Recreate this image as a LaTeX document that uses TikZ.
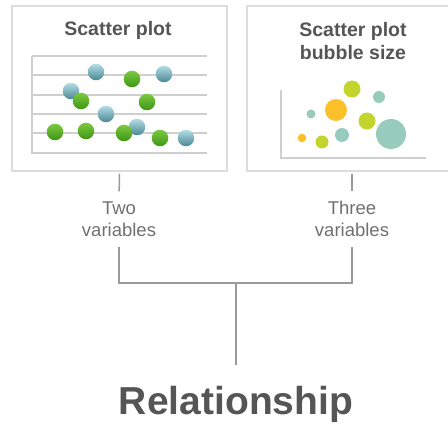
\documentclass[tikz,border=0pt]{standalone}
\usepackage{fontspec}
\setmainfont{Liberation Sans}
\usepackage{tikz}

\definecolor{panelgray}{HTML}{DCDCDC}
\definecolor{gridgray}{HTML}{CFCFCF}
\definecolor{titlegray}{HTML}{555555}
\definecolor{labelgray}{HTML}{707070}
\definecolor{linkgray}{HTML}{9A9A9A}
\definecolor{limegreen}{HTML}{C3D42C}
\definecolor{tealbubble}{HTML}{97CBBB}
\definecolor{orangebubble}{HTML}{FBC02A}
\definecolor{bluetop}{HTML}{B4DDE5}
\definecolor{bluebottom}{HTML}{4A8893}
\definecolor{greentop}{HTML}{7CC942}
\definecolor{greenbottom}{HTML}{3E9614}

\tikzset{
  panel/.style = {draw = panelgray, line width = 1.5pt, minimum height = 165pt, inner sep = 0pt},
  title/.style = {text = titlegray, font = \bfseries\fontsize{19.5}{23}\selectfont, align = center, inner sep = 0pt},
  label/.style = {text = labelgray, font = \fontsize{18.5}{22}\selectfont, align = center, inner sep = 0pt},
  link/.style = {draw = linkgray, line width = 1.5pt},
  grid line/.style = {draw = gridgray, line width = 1.3pt},
  blue dot/.style = {top color = bluetop, bottom color = bluebottom},
  green dot/.style = {top color = greentop, bottom color = greenbottom}
}

\begin{document}
\begin{tikzpicture}[x = 1pt, y = -1pt]
    \useasboundingbox (0, 0) rectangle (448, 425);

    % the two panels
    \node[panel, minimum width = 215pt] (scatter) at (119.5, 88.5) {};
    \node[panel, minimum width = 210pt] (bubble) at (352, 88.5) {};

    \node[title] (scattertitle) at (118, 30.5) {Scatter plot};
    \node[title] (bubbletitle) at (353, 41) {Scatter plot\\bubble size};

    % simple scatter
    \foreach \y in {56, 75, 95, 114, 133}
        \draw[grid line] (32, \y) -- (207, \y);
    \draw[grid line] (32, 56) -- (32, 153) -- (207, 153);
    \foreach \x/\y in {96/72, 164/74, 71/91, 106/114, 137/127, 186/138}
        \shade[blue dot] (\x, \y) circle (8.3);
    \foreach \x/\y in {132/79, 81/101, 147/102, 55/132, 86/131, 124/133, 160/138}
        \shade[green dot] (\x, \y) circle (8.3);

    % bubble scatter
    \draw[grid line] (281, 90) -- (281, 158) -- (426, 158);
    \foreach \x/\y/\r in {352/89/8.5, 367/121/8.5, 322/142/6.5}
        \fill[limegreen] (\x, \y) circle (\r);
    \foreach \x/\y/\r in {379/97/6, 311/114/4.5, 342/135/7, 391/134/15}
        \fill[tealbubble] (\x, \y) circle (\r);
    \foreach \x/\y/\r in {336/110/11, 302/138/4.3}
        \fill[orangebubble] (\x, \y) circle (\r);

    % labels and connectors
    \node[label] (two) at (119, 219) {Two\\variables};
    \node[label] (three) at (352, 219) {Three\\variables};
    \node[text = titlegray, font = \bfseries\fontsize{39}{42}\selectfont, inner sep = 0pt] (relation) at (236, 404) {Relationship};
    \coordinate (join) at (236, 283);

    \draw[link, shorten <= 2pt, shorten >= 10pt] (scatter.south) -- (two.north);
    \draw[link, shorten <= 2pt, shorten >= 10pt] (scatter.south -| three) -- (three.north);
    \draw[link, shorten <= 10pt, shorten >= 10pt] (two.south) |- (join) -| (three.south);
    \draw[link, shorten >= 21pt] (join) -- (relation.north);
\end{tikzpicture}
\end{document}
